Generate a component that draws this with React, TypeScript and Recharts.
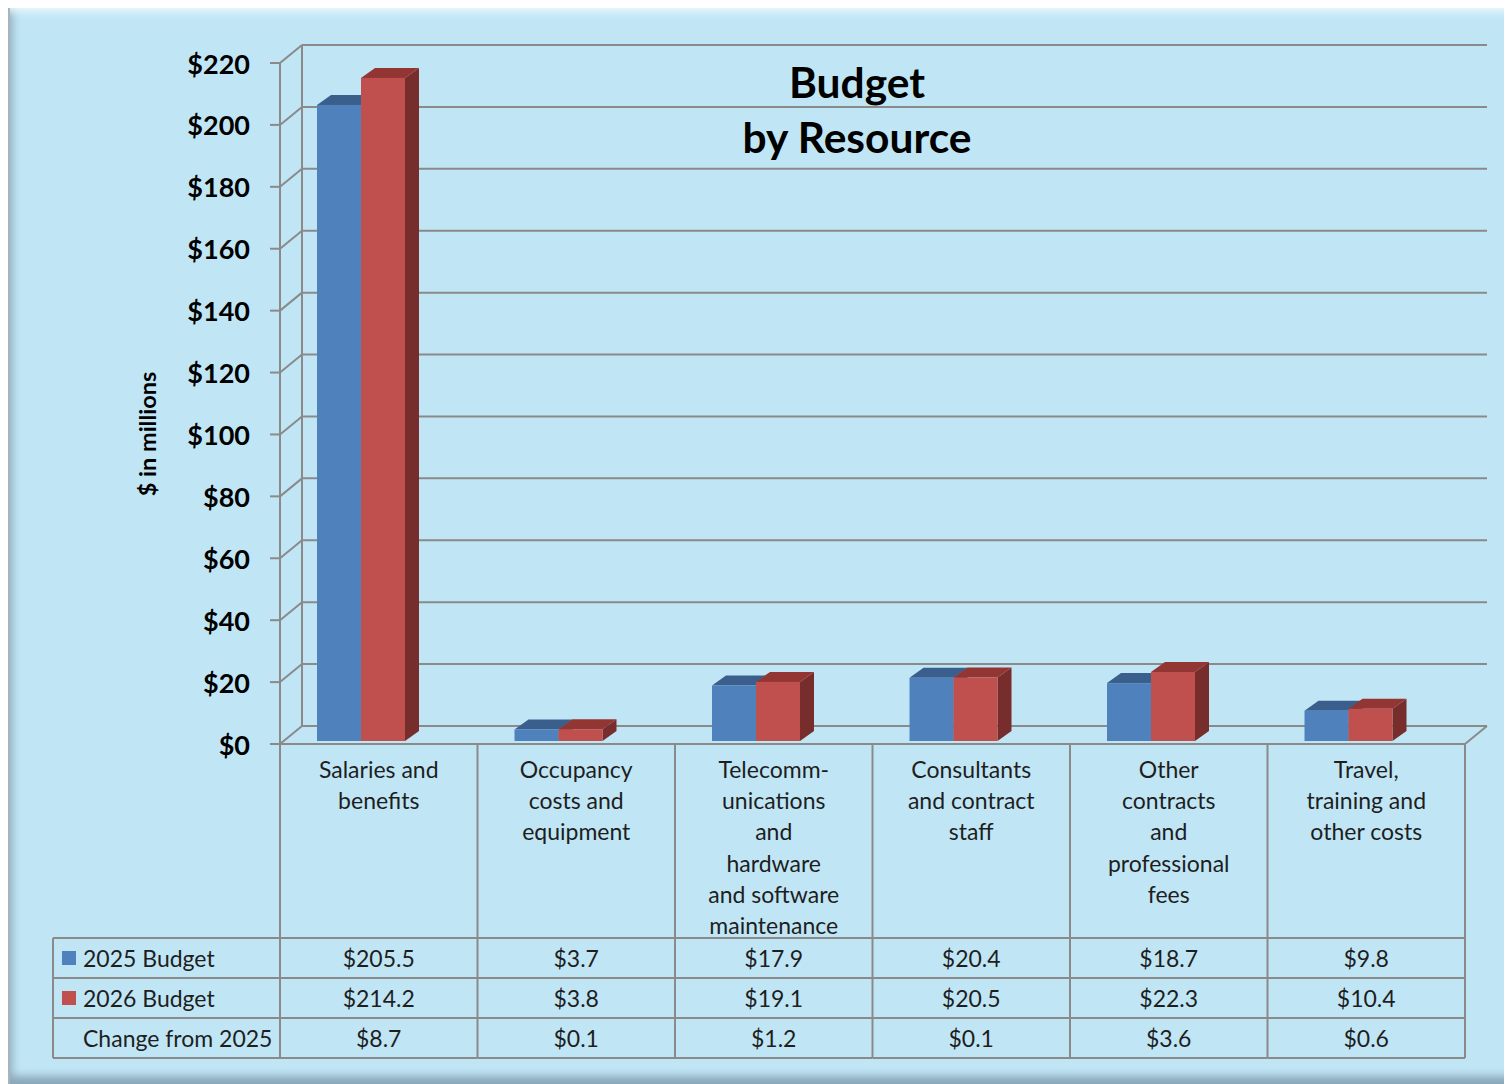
import { BarChart, Bar, XAxis, YAxis, CartesianGrid } from "recharts";

const categories = [
  ["Salaries and", "benefits"],
  ["Occupancy", "costs and", "equipment"],
  ["Telecomm-", "unications", "and", "hardware", "and software", "maintenance"],
  ["Consultants", "and contract", "staff"],
  ["Other", "contracts", "and", "professional", "fees"],
  ["Travel,", "training and", "other costs"],
];
const budget2025 = [205.5, 3.7, 17.9, 20.4, 18.7, 9.8];
const budget2026 = [214.2, 3.8, 19.1, 20.5, 22.3, 10.4];
const change = [8.7, 0.1, 1.2, 0.1, 3.6, 0.6];
const yTicks = [0, 20, 40, 60, 80, 100, 120, 140, 160, 180, 200, 220];
const rowLabels = ["2025 Budget", "2026 Budget", "Change from 2025"];

const data = categories.map((c, i) => ({
  key: String(i),
  b2025: budget2025[i],
  b2026: budget2026[i],
  change: change[i],
}));

const W = 1504;
const H = 1079;
const PLOT_L = 272;
const PLOT_R = 1457;
const PLOT_T = 58;
const PLOT_B = 739;
const COL_W = (PLOT_R - PLOT_L) / categories.length;
const ROW_TOP = 933;
const ROW_H = 40;
const LEG_L = 45;
const DEPTH_X = 22;
const DEPTH_Y = 18;
const GRID = "#8a8a8a";
const FONT = "Lato, 'Open Sans', sans-serif";
const TXT = "#1e1e1e";

const fmt = (v: number) => "$" + v.toFixed(1);

function Bar3D(props: any) {
  const { x, y, width, height, front, top, side } = props;
  const bx = x - 18;
  const by = y - 3;
  const dx = 14;
  const dy = 10;
  return (
    <g>
      <polygon points={`${bx + width},${by} ${bx + width + dx},${by - dy} ${bx + width + dx},${by + height - dy} ${bx + width},${by + height}`} fill={side} />
      <polygon points={`${bx},${by} ${bx + dx},${by - dy} ${bx + width + dx},${by - dy} ${bx + width},${by}`} fill={top} />
      <rect x={bx} y={by} width={width} height={height} fill={front} />
    </g>
  );
}

function YTick(props: any) {
  const { x, y, payload } = props;
  return (
    <text x={x} y={y} textAnchor="end" dominantBaseline="central" fontFamily={FONT} fontWeight={700} fontSize={27} fill="#000">
      ${payload.value}
    </text>
  );
}

function TableColumn(props: any) {
  const { x, payload } = props;
  const i = payload.index;
  const l = x - COL_W / 2;
  const r = x + COL_W / 2;
  const rows = [budget2025[i], budget2026[i], change[i]];
  const bottom = ROW_TOP + ROW_H * 3;
  return (
    <g>
      {i === 0 && (
        <g>
          <line x1={l} y1={PLOT_B} x2={l} y2={bottom} stroke={GRID} strokeWidth={2} />
          <line x1={LEG_L} y1={ROW_TOP} x2={LEG_L} y2={bottom} stroke={GRID} strokeWidth={2} />
          {[0, 1, 2, 3].map((k) => (
            <line key={k} x1={LEG_L} y1={ROW_TOP + k * ROW_H} x2={l} y2={ROW_TOP + k * ROW_H} stroke={GRID} strokeWidth={2} />
          ))}
          <rect x={54} y={ROW_TOP + 13} width={14} height={14} fill="#4f81bd" />
          <rect x={54} y={ROW_TOP + ROW_H + 13} width={14} height={14} fill="#c0504d" />
          {rowLabels.map((t, k) => (
            <text key={t} x={75} y={ROW_TOP + ROW_H * k + ROW_H / 2} dominantBaseline="central" fontFamily={FONT} fontSize={23} fill={TXT}>
              {t}
            </text>
          ))}
        </g>
      )}
      <line x1={r} y1={PLOT_B} x2={r} y2={bottom} stroke={GRID} strokeWidth={2} />
      {[0, 1, 2, 3].map((k) => (
        <line key={k} x1={l} y1={ROW_TOP + k * ROW_H} x2={r} y2={ROW_TOP + k * ROW_H} stroke={GRID} strokeWidth={2} />
      ))}
      {categories[i].map((t, k) => (
        <text key={k} x={x} y={PLOT_B + 25 + k * 31.2} textAnchor="middle" dominantBaseline="central" fontFamily={FONT} fontSize={23} fill={TXT}>
          {t}
        </text>
      ))}
      {rows.map((v, k) => (
        <text key={k} x={x} y={ROW_TOP + ROW_H * k + ROW_H / 2} textAnchor="middle" dominantBaseline="central" fontFamily={FONT} fontSize={23} fill={TXT}>
          {fmt(v)}
        </text>
      ))}
      {i === categories.length - 1 && (
        <line x1={r} y1={PLOT_B} x2={r + DEPTH_X} y2={PLOT_B - DEPTH_Y} stroke={GRID} strokeWidth={2} />
      )}
    </g>
  );
}

function GridLine(p: any) {
  const { x1, y1, x2, index } = p;
  const top = p.y ?? PLOT_T;
  const h = p.height ?? PLOT_B - PLOT_T;
  return (
    <g key={p.key ?? index}>
      {index === 0 && (
        <line x1={x1 + DEPTH_X} y1={top - DEPTH_Y} x2={x1 + DEPTH_X} y2={top + h - DEPTH_Y} stroke={GRID} strokeWidth={2} />
      )}
      <line x1={x1} y1={y1} x2={x1 + DEPTH_X} y2={y1 - DEPTH_Y} stroke={GRID} strokeWidth={2} />
      <line x1={x1 + DEPTH_X} y1={y1 - DEPTH_Y} x2={x2 + DEPTH_X} y2={y1 - DEPTH_Y} stroke={GRID} strokeWidth={2} />
    </g>
  );
}

export default function App() {
  return (
    <div
      style={{
        position: "relative",
        width: W,
        height: H,
        marginTop: -3,
        background: "#c0e6f6",
        boxSizing: "border-box",
        borderTop: "2px solid #a8b4bc",
        borderLeft: "2px solid #a8b4bc",
        boxShadow: "inset 0 12px 10px -8px #f2fbff, inset 0 -12px 8px -4px #8aa7ba, inset 8px 0 8px -5px #9cb6c6",
        overflow: "hidden",
      }}
    >
      <BarChart
        width={W}
        height={H}
        data={data}
        margin={{ top: PLOT_T, right: W - PLOT_R, bottom: 20, left: 0 }}
        barGap={0}
        barSize={44}
        style={{ position: "absolute", left: -2, top: -2 }}
      >
        <CartesianGrid horizontal={GridLine} vertical={false} />
        <XAxis
          dataKey="key"
          height={H - PLOT_B - 20}
          axisLine={{ stroke: GRID, strokeWidth: 2 }}
          tickLine={false}
          tick={<TableColumn />}
          interval={0}
        />
        <YAxis
          width={PLOT_L}
          domain={[0, 220]}
          ticks={yTicks}
          interval={0}
          axisLine={{ stroke: GRID, strokeWidth: 2 }}
          tickLine={{ stroke: GRID, strokeWidth: 2 }}
          tickSize={10}
          tickMargin={20}
          tick={<YTick />}
        />
        <Bar dataKey="b2025" isAnimationActive={false} shape={<Bar3D front="#4f81bd" top="#3b5f8d" side="#34557e" />} />
        <Bar dataKey="b2026" isAnimationActive={false} shape={<Bar3D front="#c0504d" top="#933633" side="#772d2b" />} />
      </BarChart>
      <div
        style={{
          position: "absolute",
          left: 597,
          width: 500,
          top: 47,
          textAlign: "center",
          fontFamily: FONT,
          fontWeight: 700,
          fontSize: 42.5,
          lineHeight: "55px",
          color: "#000",
        }}
      >
        Budget
        <br />
        by Resource
      </div>
      <div
        style={{
          position: "absolute",
          left: 137,
          top: 427,
          transform: "translate(-50%, -50%) rotate(-90deg)",
          whiteSpace: "nowrap",
          fontFamily: FONT,
          fontWeight: 700,
          fontSize: 23.5,
          color: "#000",
        }}
      >
        $ in millions
      </div>
    </div>
  );
}
